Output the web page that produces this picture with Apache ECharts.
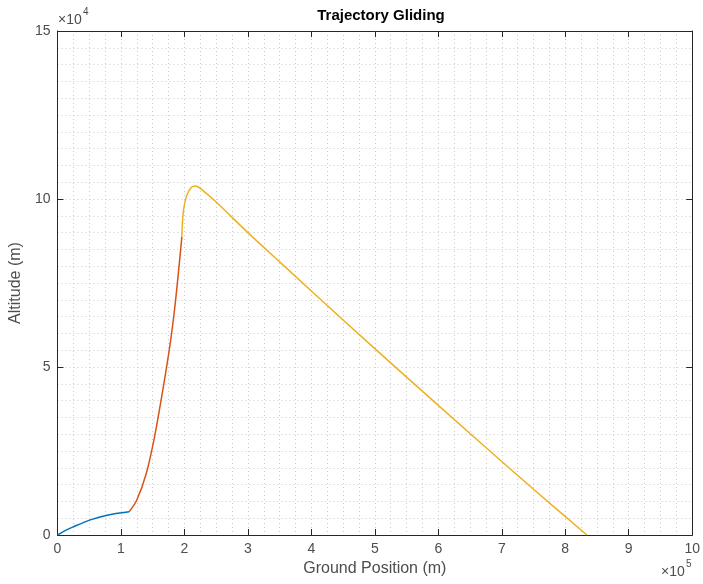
<!DOCTYPE html>
<html>
<head>
<meta charset="utf-8">
<script src="https://cdn.jsdelivr.net/npm/echarts@6/dist/echarts.min.js"></script>
<style>
html,body{margin:0;padding:0;background:#fff;}
#chart{width:703px;height:584px;}
</style>
</head>
<body>
<div id="chart"></div>
<script>
// Ground position (m) and altitude (m) per flight phase
const ascentX   = [0, 12000, 25600, 51700, 78000, 113000];
const ascentY   = [0, 1300, 2500, 4500, 5900, 6900];
const climbX    = [113000, 125000, 140000, 153000, 166000, 177000, 185000, 192000, 196000];
const climbY    = [6900, 10400, 18400, 29300, 43200, 56200, 68000, 80900, 88800];
const glideX    = [196000, 198000, 203000, 211000, 218000, 224000, 250000, 300000, 350000, 450000, 550000, 650000, 750000, 834000];
const glideY    = [88800, 95700, 100700, 103500, 103900, 103300, 99100, 90000, 81300, 64000, 47000, 30200, 13600, 0];
const xTicks    = [0, 1, 2, 3, 4, 5, 6, 7, 8, 9, 10];
const yTicks    = [0, 5, 10, 15];

const pairs = (xs, ys) => xs.map((x, i) => [x, ys[i]]);

const chart = echarts.init(document.getElementById('chart'));
const axisColor = '#262626';
const labelColor = '#4d4d4d';
const fontFam = '"Liberation Sans", Arial, Helvetica, sans-serif';
const gridDots = {show: true, lineStyle: {color: '#cacaca', type: [1, 3], width: 1}};

const xCommon = {
  type: 'value', min: 0, max: 1e6, interval: 1e5,
  axisLine: {show: true, onZero: false, lineStyle: {color: axisColor, width: 1}},
  axisTick: {show: true, inside: true, length: 6, lineStyle: {color: axisColor}}
};
const yCommon = {
  type: 'value', min: 0, max: 1.5e5, interval: 5e4,
  axisLine: {show: true, onZero: false, lineStyle: {color: axisColor, width: 1}},
  axisTick: {show: true, inside: true, length: 6, lineStyle: {color: axisColor}}
};

chart.setOption({
  animation: false,
  backgroundColor: '#fff',
  title: {
    text: 'Trajectory Gliding', left: 376, top: 3, textAlign: 'center',
    textStyle: {fontFamily: fontFam, fontSize: 15, fontWeight: 'bold', color: '#000'}
  },
  grid: {left: 57, right: 7, top: 31, bottom: 49, containLabel: false},
  xAxis: [
    Object.assign({}, xCommon, {
      position: 'bottom',
      name: 'Ground Position (m)', nameLocation: 'middle', nameGap: 26,
      nameTextStyle: {fontFamily: fontFam, fontSize: 16, color: labelColor},
      axisLabel: {margin: 7, fontFamily: fontFam, fontSize: 14, color: labelColor,
        formatter: v => String(xTicks[Math.round(v / 1e5)])},
      splitLine: gridDots,
      minorTick: {show: false, splitNumber: 4},
      minorSplitLine: gridDots
    }),
    Object.assign({}, xCommon, {
      position: 'top', axisLabel: {show: false}, splitLine: {show: false}
    })
  ],
  yAxis: [
    Object.assign({}, yCommon, {
      position: 'left',
      name: 'Altitude (m)', nameLocation: 'middle', nameGap: 29, nameRotate: 90,
      nameTextStyle: {fontFamily: fontFam, fontSize: 16, color: labelColor},
      axisLabel: {margin: 7, fontFamily: fontFam, fontSize: 14, color: labelColor,
        formatter: v => String(yTicks[Math.round(v / 5e4)])},
      splitLine: gridDots,
      minorTick: {show: false, splitNumber: 10},
      minorSplitLine: gridDots
    }),
    Object.assign({}, yCommon, {
      position: 'right', axisLabel: {show: false}, splitLine: {show: false}
    })
  ],
  graphic: [
    {type: 'text', left: 58, top: 13, style: {text: '×10', font: '14px ' + fontFam, fill: labelColor}},
    {type: 'text', left: 83, top: 7, style: {text: '4', font: '10px ' + fontFam, fill: labelColor}},
    {type: 'text', left: 661, top: 565, style: {text: '×10', font: '14px ' + fontFam, fill: labelColor}},
    {type: 'text', left: 686, top: 559, style: {text: '5', font: '10px ' + fontFam, fill: labelColor}}
  ],
  series: [
    {type: 'line', data: pairs(ascentX, ascentY), showSymbol: false, smooth: 0.3,
      lineStyle: {color: '#0072BD', width: 1.5}, z: 3},
    {type: 'line', data: pairs(climbX, climbY), showSymbol: false, smooth: 0.3,
      lineStyle: {color: '#D95319', width: 1.5}, z: 3},
    {type: 'line', data: pairs(glideX, glideY), showSymbol: false, smooth: 0.3,
      lineStyle: {color: '#EDB120', width: 1.5}, z: 3}
  ]
});
</script>
</body>
</html>
